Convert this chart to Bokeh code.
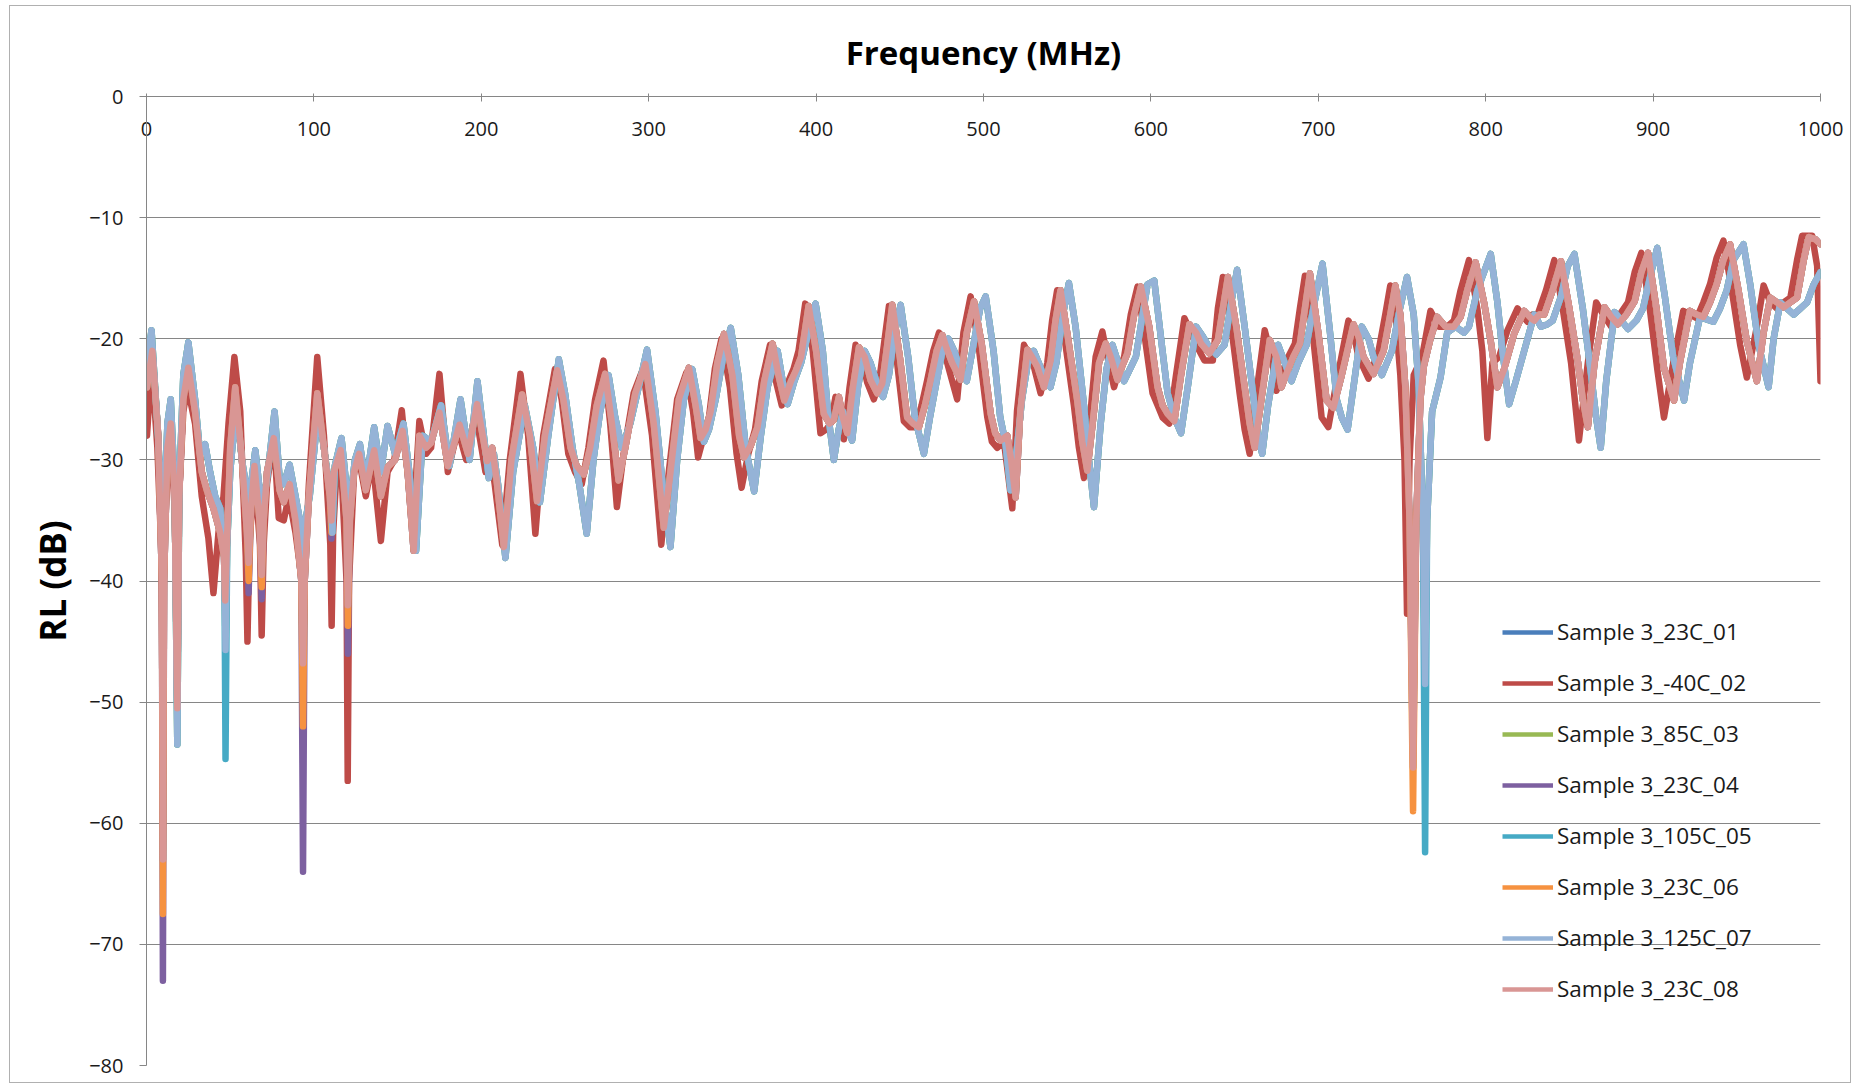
from bokeh.plotting import figure
from bokeh.models import FixedTicker, Legend, LegendItem
from bokeh.embed import file_html
from bokeh.resources import INLINE

# ---------------- data ----------------
series_names = ["Sample 3_23C_01", "Sample 3_-40C_02", "Sample 3_85C_03", "Sample 3_23C_04",
                "Sample 3_105C_05", "Sample 3_23C_06", "Sample 3_125C_07", "Sample 3_23C_08"]
series_colors = ["#4A7EBB", "#BE4B48", "#98B954", "#7D60A0",
                 "#46AAC5", "#F69240", "#95B3D7", "#D99694"]

x_ticks = [0, 100, 200, 300, 400, 500, 600, 700, 800, 900, 1000]
y_ticks = [-80, -70, -60, -50, -40, -30, -20, -10, 0]

# 23C (Sample 3_23C_08)
freq_23c = [
    0.3, 3.5, 7, 9.2, 9.8, 10.5, 12.5, 14.5, 16.8, 18.4, 19.5, 22, 25, 29, 33, 36, 40, 44, 46.3, 47,
    48, 50, 53, 57, 60, 61, 62.5, 64.5, 67.5, 68.8, 70, 72, 76, 79.5, 82, 85.5, 89, 92.5, 93.5, 94.5,
    97, 102, 106, 109.5, 110.5, 112, 116, 119.5, 120.3, 121.5, 124, 127, 131, 136, 140, 144, 148.5, 153, 156, 159.6,
    163, 167, 170, 175, 180, 187, 192, 197.5,
    203.5, 206.5, 209, 213.5, 218, 224.4, 229, 233.3, 238, 245.3, 249, 253.3, 257, 261.2, 265, 269, 274, 278, 282, 286,
    292, 298, 303, 309, 313, 318, 324, 328, 331, 334, 337, 341, 345, 350, 354, 357, 361, 365, 369, 374,
    377.5, 381, 385, 388, 391, 395.5,
    400, 404.6, 408, 410.6, 413.6, 416, 418.6, 422, 425.6, 429, 432.5, 436.5, 439.5, 442.5, 445.5, 450, 454.4, 458, 461.4, 465,
    468.4, 472, 475.4, 478, 481.3, 486.3, 490, 494.3, 499, 504.3, 507, 510.2, 514.2, 516.5, 519.2, 522, 526.2, 529, 532.1, 536.1,
    540.1, 543, 546, 550, 556, 559, 562, 566, 569, 573, 576, 580, 583, 586, 590, 594,
    599, 604, 607, 610, 614, 618, 623, 627, 630, 635, 640, 643, 646, 651, 656, 659, 662, 666, 671, 675,
    678, 681, 685, 689, 692, 695, 700, 705, 709, 714, 721, 724, 727, 733, 739, 743, 746, 749, 752, 754.5,
    756.6, 758.5, 761, 763, 767, 771, 776, 781, 785, 789,
    794, 799, 803, 807, 811, 817, 823, 827, 829, 832, 835, 840, 845, 850, 855, 858, 861, 865, 871, 875,
    879, 884, 889, 893, 897, 902, 906.5, 912.5, 916, 922, 926, 930, 934, 938, 942, 946, 951, 956, 962, 966,
    970, 974, 978, 982, 986, 990, 993, 997, 1000]
rl_23c_08 = [
    -24, -21, -28, -40, -63, -40, -29, -27, -33, -50.5, -33, -25, -22.4, -26, -31, -32.5, -34, -36, -38, -41.6,
    -37, -29, -24, -30, -36, -38.5, -34, -30.5, -35, -39.5, -35, -31, -28.2, -32.5, -33.5, -32, -35, -40, -46.8, -40,
    -33, -24.5, -29, -33, -35, -31, -29.2, -35, -42, -35, -31, -29.5, -32.5, -29.2, -33, -30.6, -30, -27.6, -31, -37.5,
    -28, -29, -28.6, -26.1, -30.5, -27.1, -29.5, -25.4,
    -30.1, -29, -31.5, -37.2, -30, -24.6, -28, -33.4, -28, -22.6, -25, -29, -30.5, -31.2, -29, -25.5, -22.9, -27, -31.7, -29,
    -24.5, -22.1, -27, -35.6, -31, -25, -22.4, -25.5, -28.2, -27.5, -26, -22, -19.6, -23, -28, -29.8, -28.8, -27.3, -23.5, -20.4,
    -23, -25.1, -23.5, -22.6, -21.5, -17.3,
    -21, -26.2, -27, -26.7, -24.8, -26.5, -27.8, -24, -20.7, -21.5, -23.4, -24.5, -23.7, -20.5, -17.2, -21.5, -26.5, -27, -27.3, -25.5,
    -23.4, -21, -19.7, -20.8, -22, -23.4, -19.5, -16.9, -20.5, -26.2, -27.8, -28.4, -28, -30, -33.1, -26, -20.9, -21.5, -22.3, -24,
    -21.8, -18.5, -16, -19.5, -25.1, -28.5, -30.9, -26, -22, -20.4, -21.5, -23.4, -22.2, -21.2, -18, -15.7,
    -19, -24, -25.5, -26.2, -26.8, -23, -18.8, -19.5, -20.4, -21.2, -20.1, -17.5, -14.9, -19, -24, -27, -29, -25, -20.1, -21.5,
    -24, -22.9, -21.5, -20.4, -17.5, -14.6, -19.5, -25.1, -25.7, -23, -18.8, -19.8, -21.5, -22.9, -21, -18, -15.6, -18, -24, -35,
    -55.4, -35, -25, -22.3, -20, -18.2, -19, -19, -18.2, -16,
    -13.7, -17, -20.2, -24, -22.5, -19.6, -17.7, -18.3, -18.5, -18, -18, -16, -13.6, -17.5, -21.8, -25, -27.3, -22, -17.4, -18.2,
    -18.8, -18, -16.9, -14.5, -12.9, -17.5, -22.4, -25.1, -22, -17.7, -18, -18.2, -17, -15.5, -13.5, -12.2, -16, -20.2, -23.5, -19.5,
    -16.6, -17, -17.4, -17, -16.6, -13.5, -11.6, -11.8, -12.2]

# deeper notches of the other 23C runs (frequency -> RL)
notch_23c_01 = {}
notch_23c_04 = {9.8: -73, 61: -41, 68.8: -41.5, 93.5: -64, 110.5: -36.5, 120.3: -46, 756.6: -53.2}
notch_23c_06 = {9.8: -67.5, 61: -40, 68.8: -40.5, 93.5: -52, 110.5: -36, 120.3: -43.7, 756.6: -59}

# -40C (Sample 3_-40C_02)
freq_m40c = [
    0.3, 3, 6.5, 9, 9.6, 10.3, 12.5, 14.5, 16.8, 18.3, 19.5, 22, 24.5, 29, 33, 37, 40, 43, 46, 49,
    52.5, 56, 59.3, 60.3, 61.5, 64.5, 67.8, 68.8, 70, 72, 76, 79, 82, 85, 89, 92.8, 93.5, 94.3, 97, 102,
    106, 109.8, 110.6, 111.5, 113.5, 116, 119.5, 120.2, 121, 124, 127, 131, 135, 140, 144, 148, 152.5, 156, 159, 163,
    167, 170, 175, 180, 186, 191, 196.5,
    202.5, 205.5, 208, 212.5, 217, 223.4, 228, 232.3, 237, 244, 248, 252, 256, 260, 264, 268, 273, 277, 281, 285,
    291, 296.5, 302, 307.5, 312, 317, 322.5, 326.5, 329.5, 333, 336, 339.5, 343.5, 348.5, 352.5, 355.5, 359.5, 363.5, 367.5, 372.5,
    376, 379.5, 383.5, 386.5, 389.5, 393.5,
    398, 402.6, 406, 408.6, 411.6, 414, 416.6, 420, 423.6, 427, 430.5, 434.5, 437.5, 440.5, 443.5, 448, 452.4, 456, 459.4, 463,
    466.4, 470, 473.4, 476, 479.3, 484.3, 488, 492.3, 497, 502.3, 505, 508.2, 512.2, 514.5, 517.2, 520, 524.2, 527, 530.1, 534.1,
    538.1, 541, 544, 548, 554, 557, 560, 564, 567, 571, 574, 578, 581, 584, 588, 592,
    596, 601, 604, 607, 611, 615, 620, 624, 627, 632, 637, 640, 643, 648, 653, 656, 659, 663, 668, 672,
    675, 678, 682, 686, 689, 692, 697, 702, 706, 711, 718, 721, 724, 730, 736, 740, 743, 746, 749, 751.5,
    753, 754.5, 757, 762, 767, 772, 777, 781, 785,
    790, 795, 798, 801, 804, 808, 813, 819, 823, 825, 828, 831, 836, 841, 846, 851, 855.7, 861, 866, 871,
    875, 880, 885, 889, 893, 898, 902.5, 906.5, 912, 918, 922, 926, 930, 934, 938, 942, 947, 952, 956, 962,
    966, 970, 974, 978, 982, 986, 989, 995, 998, 1000]
rl_m40c_02 = [
    -28, -22, -29, -38, -52, -38, -31, -28, -34, -44, -33, -26, -24, -27, -33, -36.5, -41, -36, -33, -27,
    -21.5, -26, -38, -45, -37, -31, -37, -44.5, -37, -32, -28, -34.8, -35, -33, -36, -40, -45, -40, -32, -21.5,
    -28, -37, -43.7, -36, -31, -29.5, -40, -56.5, -40, -31, -30, -33, -30, -36.7, -31, -30, -25.9, -31, -36, -26.8,
    -29.5, -29, -22.9, -31, -27.5, -30, -26,
    -31, -29.5, -32, -37, -30, -22.9, -28, -36.1, -28, -22.5, -25, -29.5, -31, -32, -29, -25, -21.8, -27, -33.9, -29.5,
    -24.5, -22.5, -28, -37, -31, -25, -22.8, -26, -29.8, -28, -26.5, -22.5, -20, -24, -29.5, -32.3, -29.5, -27.5, -23.5, -20.5,
    -23.5, -25.5, -23.5, -22.5, -21, -17.1,
    -21, -27.8, -27.5, -27, -24.8, -26.5, -28.3, -24, -20.5, -21.5, -23.6, -25, -23.7, -20.5, -17.3, -21.5, -26.8, -27.3, -27.3, -25.5,
    -23.4, -21, -19.5, -20.8, -22.5, -25, -19.5, -16.5, -20.5, -26.5, -28.5, -29, -28.5, -31, -34, -26, -20.5, -21.3, -22.3, -24.5,
    -22, -18.5, -16, -19.5, -25.5, -29, -31.5, -26, -21.5, -19.4, -21.5, -24, -22.5, -21.5, -18, -15.7,
    -19.5, -24.5, -25.5, -26.5, -27, -23, -18.3, -19.5, -20.5, -21.8, -21.8, -17.5, -14.9, -19, -24.5, -27.5, -29.5, -24.5, -19.3, -21.5,
    -24.3, -23, -21.5, -20.4, -17.5, -14.8, -20, -26.5, -27.3, -23.5, -18.5, -19.5, -21.5, -23.3, -21, -18, -15.6, -18, -23, -30,
    -42.7, -30, -23, -21.5, -17.7, -19, -19, -18.5, -16,
    -13.5, -17.5, -21, -28.2, -22, -21.5, -19.3, -17.5, -18.3, -18.6, -18, -18, -16, -13.5, -17.5, -22, -28.4, -22, -17, -18.2,
    -19, -18, -17, -14.5, -12.9, -17.5, -22.5, -26.5, -22, -17.7, -18, -18.3, -17, -15.5, -13.3, -11.9, -16, -20.5, -23.2, -19,
    -15.6, -17, -17.5, -17, -16.6, -13.5, -11.5, -11.5, -14, -23.5]

# 125C (Sample 3_125C_07)
freq_125c = [
    0.3, 3, 6.5, 9.2, 9.9, 10.6, 12.5, 14.5, 16.8, 18.4, 19.6, 22, 25, 29, 32, 35, 38, 41, 44, 46.5,
    47.2, 48.2, 50, 53.5, 57, 60.5, 61.3, 62.5, 65, 68, 69, 70.5, 72.5, 76.5, 79.5, 82, 85.5, 89, 93, 94,
    95, 97.5, 102.5, 106, 110, 111, 112.5, 116.5, 120, 121, 122, 124.5, 127.5, 131, 136, 140, 144, 148.5, 153.5, 157,
    161, 165, 170, 176, 181, 187.6, 193, 197.7,
    204.5, 207.5, 210, 214.4, 219, 226, 231, 235, 240, 246.3, 250, 254.5, 258.5, 263, 267, 271, 276, 280, 284, 289,
    294, 299, 304, 309, 313, 317, 321, 326, 330, 333, 336, 340, 344.5, 349, 353.5, 358, 363, 367, 371, 377,
    380, 383, 387, 391, 394.5, 399.7,
    404, 407, 410.6, 413.5, 416, 419, 421.5, 425, 429, 432.5, 436, 440, 443.5, 447, 450.5, 455, 459, 464.4, 468, 472,
    475.5, 479, 482.5, 486, 490, 494, 498, 501.3, 506, 510, 513, 516.2, 520, 523, 526.5, 530, 533, 536.5, 540, 543.5,
    547.5, 551, 555, 560, 563, 566, 570, 573.5, 577, 580.5, 584, 587.5, 591, 594.5, 598,
    602, 606.5, 610, 614, 618, 622, 627, 631, 634, 639, 644, 648, 651.5, 656, 661, 664, 666.5, 670, 676, 680,
    684, 688, 693, 697, 702.5, 707, 711, 714, 717.5, 721, 726, 730, 733, 738, 744, 748, 753, 757, 760, 762.5,
    763.8, 765, 768, 773, 777, 782, 787, 790, 795,
    803, 807, 810, 814, 818, 823, 829, 833, 837, 840, 845, 849, 853, 858, 863, 866, 868.7, 872, 877, 881,
    885, 890, 894, 898, 902.5, 907, 912, 918.5, 922, 928, 932, 936, 940, 944, 948, 954, 958, 963, 969, 972,
    976, 980, 984, 988, 992, 996, 1000]
rl_125c_07 = [
    -22, -19.3, -27, -34, -40, -34, -27, -25, -32, -53.5, -32, -23, -20.3, -25, -29.5, -28.7, -31, -33, -34, -38,
    -45.7, -37, -31, -25.5, -30, -33, -35, -32, -29.2, -33, -35, -33, -31, -26, -31.5, -32, -30.4, -33, -36, -39,
    -35, -33, -26, -29, -33, -36, -30.5, -28.2, -33, -36, -33, -30, -28.7, -32, -27.3, -31, -27.2, -29.5, -27, -31,
    -37.5, -28, -28.5, -25.5, -30.5, -25, -30, -23.5,
    -31.5, -29.5, -32, -38.1, -31, -25.5, -29, -33.5, -28, -21.7, -24.5, -29, -32, -36.1, -30, -26, -23, -26.5, -29, -27,
    -24, -20.9, -26, -33, -37.2, -30, -25, -22.5, -25.5, -28.5, -27.5, -25, -21.5, -19.1, -23, -29, -32.6, -28, -24, -21,
    -23.5, -25.4, -23.5, -22, -20, -17.1,
    -21, -26, -30, -27.5, -26, -27.5, -28.4, -24, -21, -22, -23.5, -24.8, -23, -19.5, -17.2, -21.5, -26.5, -29.5, -26.5, -23.5,
    -21, -20, -21, -22.5, -23.5, -20.5, -17.5, -16.5, -21, -26.5, -28.5, -32.5, -29, -25, -22, -21, -22, -23.3, -24, -22,
    -18, -15.4, -19, -25.5, -30, -33.9, -27, -22.5, -20.5, -22, -23.5, -22.5, -21.5, -18.5, -15.5,
    -15.2, -20.5, -24.5, -26.5, -27.8, -24, -19, -19.8, -20.5, -21.3, -20.5, -17, -14.3, -19, -24.5, -28, -29.5, -25.5, -20.5, -22,
    -23.5, -22, -20.5, -17.5, -13.8, -19.5, -25, -26.5, -27.5, -24, -19, -20, -21.5, -23, -21, -18, -14.9, -18, -24, -35,
    -48.5, -35, -26, -23.2, -19.5, -19, -19.5, -19, -16,
    -13, -17, -21, -25.4, -23.5, -21, -18, -19, -18.8, -18.5, -16.5, -14, -13, -17.5, -23, -26.5, -29, -23.5, -17.8, -18.5,
    -19.2, -18.5, -17.5, -15, -12.5, -16.5, -21.5, -25.1, -22, -18.2, -18.4, -18.6, -17.5, -16, -13.5, -12.2, -15.5, -20.5, -24, -20,
    -17, -17.5, -18, -17.5, -17, -15.5, -14.5]

# deeper notches of the 85C / 105C runs (frequency -> RL)
notch_85c_03 = {}
notch_105c_05 = {47.2: -54.7, 763.8: -62.4}

assert len(freq_23c) == len(rl_23c_08)
assert len(freq_m40c) == len(rl_m40c_02)
assert len(freq_125c) == len(rl_125c_07)


def with_notches(freqs, values, notches):
    return [notches.get(f, v) for f, v in zip(freqs, values)]


series_x = [freq_23c, freq_m40c, freq_125c, freq_23c, freq_125c, freq_23c, freq_125c, freq_23c]
series_y = [
    with_notches(freq_23c, rl_23c_08, notch_23c_01),
    rl_m40c_02,
    with_notches(freq_125c, rl_125c_07, notch_85c_03),
    with_notches(freq_23c, rl_23c_08, notch_23c_04),
    with_notches(freq_125c, rl_125c_07, notch_105c_05),
    with_notches(freq_23c, rl_23c_08, notch_23c_06),
    rl_125c_07,
    rl_23c_08,
]

# ---------------- figure ----------------
FONT = "Open Sans"
GRID = "#868686"

p = figure(width=1842, height=1078, x_range=(0, 1000), y_range=(-80, 0),
           x_axis_location="above", output_backend="svg", toolbar_location=None,
           min_border_left=136, min_border_right=32, min_border_top=90, min_border_bottom=19)
p.styles = {"border": "1px solid #B0B0B0", "margin-left": "9px", "margin-top": "5px"}
p.outline_line_color = None
p.background_fill_color = "white"
p.border_fill_color = "white"

for name, color, xs, ys in zip(series_names, series_colors, series_x, series_y):
    p.line(xs, ys, line_color=color, line_width=6.5, line_join="round", line_cap="round")

# legend keys: hidden copies of each series drawn with a thinner key line
legend_items = []
for name, color, xs, ys in zip(series_names, series_colors, series_x, series_y):
    r = p.line(xs, ys, line_color=color, line_width=4.5, visible=False)
    legend_items.append(LegendItem(label=name, renderers=[r]))

lg = Legend(items=legend_items, location=(1356, 61))
lg.label_text_font = FONT
lg.label_text_font_size = "22.5px"
lg.label_text_color = "#1a1a1a"
lg.glyph_width = 51
lg.glyph_height = 28
lg.label_height = 28
lg.spacing = 20
lg.padding = 0
lg.margin = 0
lg.label_standoff = 4
lg.background_fill_alpha = 0
lg.border_line_alpha = 0
lg.click_policy = "none"
p.add_layout(lg, "center")

p.xgrid.visible = False
p.ygrid.grid_line_color = GRID
p.ygrid.grid_line_width = 1

xa = p.xaxis[0]
xa.ticker = FixedTicker(ticks=x_ticks)
xa.axis_label = "Frequency (MHz)"
xa.axis_label_text_font = FONT
xa.axis_label_text_font_style = "bold"
xa.axis_label_text_font_size = "33px"
xa.axis_label_text_color = "#000000"
xa.axis_label_standoff = 44
xa.major_label_text_font = FONT
xa.major_label_text_font_size = "20px"
xa.major_label_text_color = "#1a1a1a"
xa.major_label_standoff = -42
xa.axis_line_color = GRID
xa.major_tick_line_color = GRID
xa.major_tick_out = 3
xa.major_tick_in = 5
xa.minor_tick_line_color = None

ya = p.yaxis[0]
ya.ticker = FixedTicker(ticks=y_ticks)
ya.axis_label = "RL (dB)"
ya.axis_label_text_font = FONT
ya.axis_label_text_font_style = "bold"
ya.axis_label_text_font_size = "35px"
ya.axis_label_text_color = "#000000"
ya.axis_label_standoff = 10
ya.major_label_text_font = FONT
ya.major_label_text_font_size = "20px"
ya.major_label_text_color = "#1a1a1a"
ya.major_label_standoff = 16
ya.axis_line_color = GRID
ya.major_tick_line_color = GRID
ya.major_tick_out = 7
ya.major_tick_in = 0
ya.minor_tick_line_color = None

open("out.html", "w").write(file_html(p, INLINE))
